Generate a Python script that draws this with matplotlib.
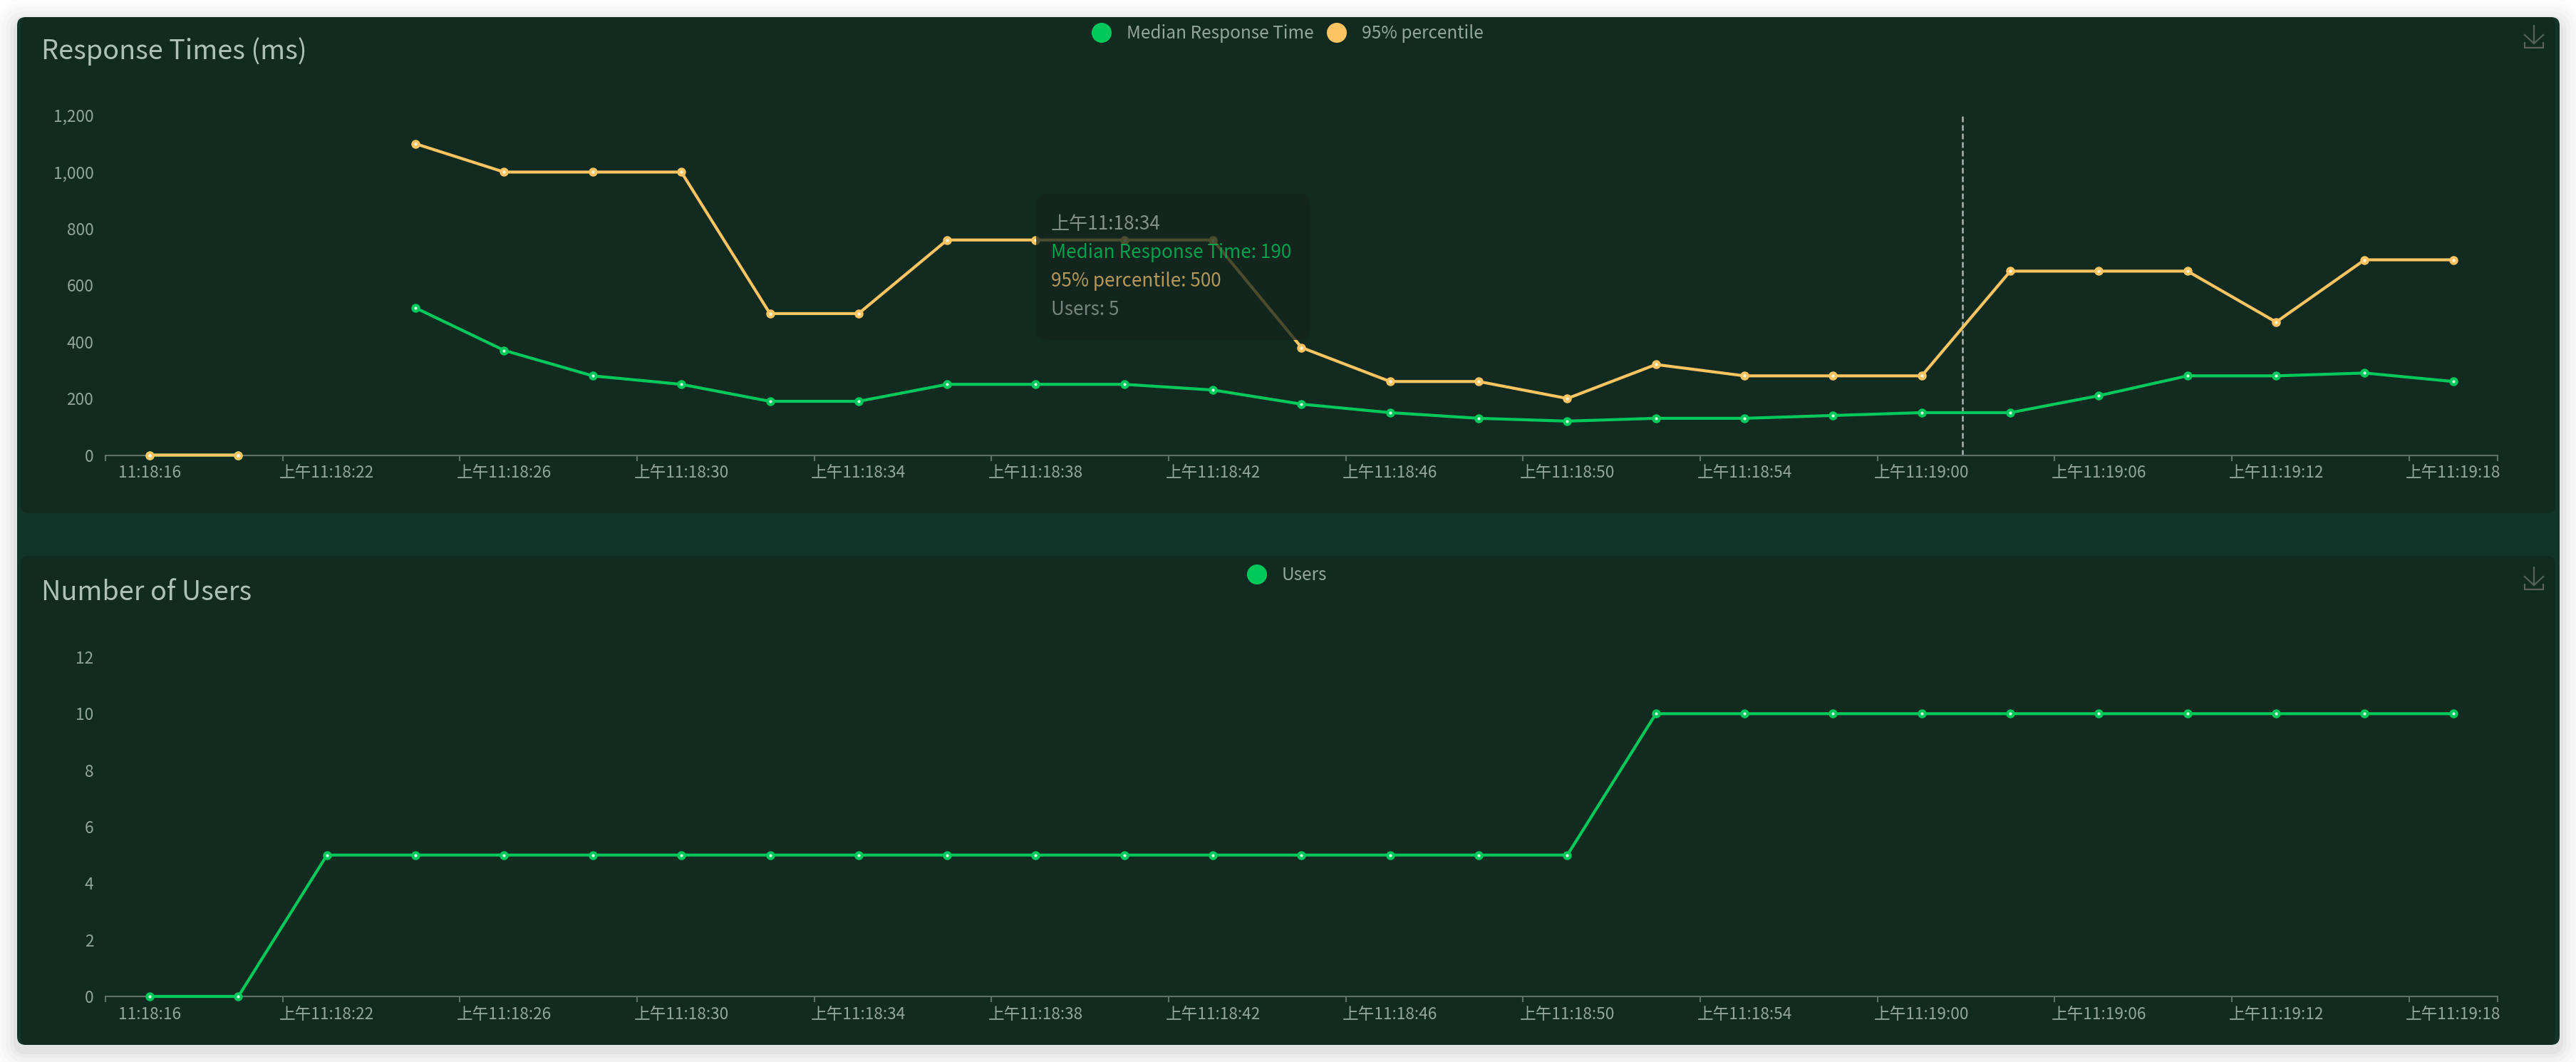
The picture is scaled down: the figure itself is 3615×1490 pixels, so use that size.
import matplotlib
matplotlib.use('Agg')
import matplotlib.pyplot as plt
from matplotlib.patches import FancyBboxPatch, Circle
import numpy as np

plt.rcParams['font.family'] = ['Noto Sans CJK SC', 'DejaVu Sans']

W, H = 3616, 1490

time_labels = ['11:18:16', '上午11:18:22', '上午11:18:26', '上午11:18:30', '上午11:18:34',
               '上午11:18:38', '上午11:18:42', '上午11:18:46', '上午11:18:50', '上午11:18:54',
               '上午11:19:00', '上午11:19:06', '上午11:19:12', '上午11:19:18']
median_ms = [0, 0, None, 520, 370, 280, 250, 190, 190, 250, 250, 250, 230, 180, 150,
             130, 120, 130, 130, 140, 150, 150, 210, 280, 280, 290, 260]
p95_ms = [0, 0, None, 1100, 1000, 1000, 1000, 500, 500, 760, 760, 760, 760, 380, 260,
          260, 200, 320, 280, 280, 280, 650, 650, 650, 470, 690, 690]
users = [0, 0, 5, 5, 5, 5, 5, 5, 5, 5, 5, 5, 5, 5, 5, 5, 5,
         10, 10, 10, 10, 10, 10, 10, 10, 10, 10]
ms_ticks = [0, 200, 400, 600, 800, 1000, 1200]
user_ticks = [0, 2, 4, 6, 8, 10, 12]

CARD = '#112b21'
BAND = '#12352a'
GREEN = '#00c95c'
YELLOW = '#fdc462'
AXIS = '#5f7269'
TICK_TXT = '#93a69e'
TITLE_TXT = '#adc1b8'


def px_axes(fig, left, top, right, bottom, **kw):
    return fig.add_axes([left / W, 1 - bottom / H, (right - left) / W, (bottom - top) / H], **kw)


def series(ax, vals, color):
    y = np.array([np.nan if v is None else v for v in vals], dtype=float)
    x = np.arange(len(y))
    ax.plot(x, y, color=color, lw=3, clip_on=False, zorder=3, marker='o', ms=8, mfc=color, mec=color)
    # small bright centre of each point
    ax.plot(x, y, ls='none', clip_on=False, zorder=4, marker='o', ms=3, mfc='#f4fff4', mec='none', alpha=0.9)


def style_axis(ax, yticks, ylabels):
    n = len(users)
    ax.set_facecolor('none')
    ax.set_xlim(-0.5, n - 0.5)
    ax.set_ylim(yticks[0], yticks[-1])
    for s in ['top', 'left', 'right']:
        ax.spines[s].set_visible(False)
    ax.spines['bottom'].set_color(AXIS)
    ax.spines['bottom'].set_linewidth(1.5)
    # ticks sit on the band edges, labels on the band centres
    edges = [i - 0.5 for i in range(0, n, 2)] + [n - 0.5]
    ax.set_xticks(edges)
    ax.set_xticklabels([])
    ax.tick_params(axis='x', which='major', length=6, width=1.5, color=AXIS)
    ax.set_xticks(np.arange(0, n, 2), labels=time_labels, minor=True)
    ax.tick_params(axis='x', which='minor', length=0, pad=10, labelsize=16.3, labelcolor=TICK_TXT)
    ax.set_yticks(yticks, labels=ylabels)
    ax.tick_params(axis='y', length=0, pad=12, labelsize=16.3, labelcolor=TICK_TXT)


fig = plt.figure(figsize=(W / 100, H / 100), dpi=100, facecolor='white')

# card and shadow, in pixels
bg = fig.add_axes([0, 0, 1, 1], zorder=-1)
bg.set_xlim(0, W)
bg.set_ylim(H, 0)
bg.axis('off')
for grow, a in zip([34, 28, 22, 16, 10, 5], [0.008, 0.012, 0.016, 0.02, 0.025, 0.03]):
    bg.add_patch(FancyBboxPatch((24 - grow, 24 - grow + 8), 3568 + 2 * grow, 1442 + 2 * grow,
                                boxstyle=f'round,pad=0,rounding_size={12 + grow}',
                                fc='black', ec='none', alpha=a))
bg.add_patch(FancyBboxPatch((24, 24), 3568, 1442, boxstyle='round,pad=0,rounding_size=12',
                            fc=BAND, ec='none'))
bg.add_patch(FancyBboxPatch((29, 24), 3557, 696, boxstyle='round,pad=0,rounding_size=10',
                            fc=CARD, ec='none'))
bg.add_patch(FancyBboxPatch((29, 780), 3557, 686, boxstyle='round,pad=0,rounding_size=10',
                            fc=CARD, ec='none'))

ax_rt = px_axes(fig, 148, 162, 3505, 638.5)
series(ax_rt, median_ms, GREEN)
series(ax_rt, p95_ms, YELLOW)
style_axis(ax_rt, ms_ticks, [f'{v:,}' for v in ms_ticks])
ax_rt.axvline(20.46, color='#a8b5b3', lw=1.8, ls=(0, (3.2, 1.6)), zorder=2)

ax_users = px_axes(fig, 148, 922, 3505, 1398)
series(ax_users, users, GREEN)
style_axis(ax_users, user_ticks, [str(v) for v in user_ticks])

# titles, legends, tooltip and icons on top
top = fig.add_axes([0, 0, 1, 1], zorder=10)
top.set_xlim(0, W)
top.set_ylim(H, 0)
top.axis('off')
top.patch.set_alpha(0)

top.text(58, 72, 'Response Times (ms)', color=TITLE_TXT, fontsize=27.2, va='center', weight=500)
top.text(58, 832, 'Number of Users', color=TITLE_TXT, fontsize=27.2, va='center', weight=500)

for cx, cy, color, label in [(1546, 46, GREEN, 'Median Response Time'),
                             (1876, 46, YELLOW, '95% percentile'),
                             (1764, 806, GREEN, 'Users')]:
    top.add_patch(Circle((cx, cy), 14, fc=color, ec='none'))
    top.text(cx + 35, cy + 1, label, color=TICK_TXT, fontsize=17.6, va='center')

top.add_patch(FancyBboxPatch((1454, 272), 385, 205, boxstyle='round,pad=0,rounding_size=16',
                             fc='#13251e', ec='none', alpha=0.76))
for y, s, c in [(315, '上午11:18:34', '#84928c'), (355, 'Median Response Time: 190', '#00a04c'),
                (395, '95% percentile: 500', '#b4975a'), (435, 'Users: 5', '#75847e')]:
    top.text(1475, y, s, color=c, fontsize=18.8, va='center')

for dy in [0, 760]:
    top.plot([3556, 3556], [36 + dy, 61 + dy], color='#55625d', lw=1.6)
    top.plot([3543, 3556, 3569], [49 + dy, 61 + dy, 49 + dy], color='#55625d', lw=1.6)
    top.plot([3543, 3543, 3569, 3569], [60 + dy, 67 + dy, 67 + dy, 60 + dy], color='#55625d', lw=1.6)

fig.savefig('out.png', dpi=100, facecolor='white')
